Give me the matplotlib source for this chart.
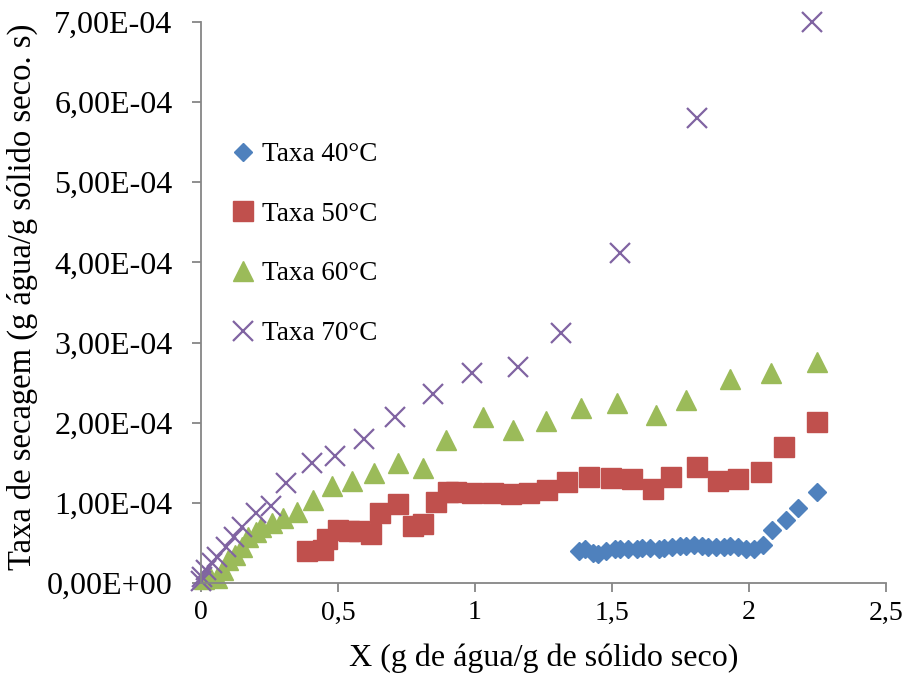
import matplotlib
matplotlib.use("Agg")
import matplotlib.pyplot as plt
from matplotlib.ticker import FuncFormatter, MultipleLocator

plt.rcParams['font.family'] = ['Liberation Serif', 'DejaVu Serif']

# umidade (g agua / g solido seco) e taxa de secagem (x1e-4 g agua / g solido seco . s)
x_40 = [1.38, 1.40, 1.43, 1.45, 1.48, 1.51, 1.53, 1.56, 1.59, 1.61, 1.64, 1.67, 1.69,
        1.72, 1.75, 1.77, 1.80, 1.83, 1.85, 1.88, 1.91, 1.93, 1.96, 1.99, 2.02, 2.05,
        2.085, 2.135, 2.18, 2.248]
y_40 = [0.40, 0.42, 0.38, 0.36, 0.40, 0.42, 0.43, 0.42, 0.43, 0.44, 0.44, 0.43, 0.44,
        0.45, 0.46, 0.46, 0.47, 0.46, 0.45, 0.45, 0.45, 0.46, 0.45, 0.43, 0.42, 0.48,
        0.66, 0.79, 0.94, 1.14]

x_50 = [0.387, 0.445, 0.46, 0.50, 0.54, 0.577, 0.62, 0.653, 0.72, 0.774, 0.81, 0.858,
        0.90, 0.93, 0.99, 1.065, 1.13, 1.197, 1.263, 1.336, 1.416, 1.496, 1.573, 1.65,
        1.715, 1.81, 1.887, 1.96, 2.044, 2.128, 2.248]
y_50 = [0.40, 0.41, 0.55, 0.66, 0.65, 0.65, 0.61, 0.87, 0.99, 0.71, 0.74, 1.01,
        1.14, 1.14, 1.12, 1.12, 1.11, 1.12, 1.16, 1.26, 1.32, 1.31, 1.30, 1.17,
        1.32, 1.45, 1.27, 1.30, 1.39, 1.70, 2.01]

x_60 = [0.01, 0.03, 0.06, 0.08, 0.10, 0.125, 0.15, 0.17, 0.20, 0.22, 0.26, 0.30, 0.35,
        0.41, 0.478, 0.55, 0.63, 0.72, 0.81, 0.894, 1.03, 1.14, 1.26, 1.387, 1.52,
        1.66, 1.77, 1.93, 2.08, 2.248]
y_60 = [0.05, 0.10, 0.06, 0.16, 0.29, 0.35, 0.45, 0.58, 0.64, 0.70, 0.75, 0.81, 0.89,
        1.04, 1.21, 1.27, 1.37, 1.50, 1.43, 1.79, 2.07, 1.91, 2.02, 2.18, 2.25,
        2.10, 2.28, 2.55, 2.62, 2.76]

x_70 = [0.0, 0.005, 0.02, 0.04, 0.06, 0.09, 0.12, 0.15, 0.20, 0.255, 0.31, 0.405,
        0.49, 0.595, 0.71, 0.847, 0.99, 1.157, 1.314, 1.53, 1.81, 2.23]
y_70 = [0.03, 0.08, 0.16, 0.25, 0.33, 0.45, 0.58, 0.70, 0.87, 0.96, 1.25, 1.50,
        1.59, 1.80, 2.07, 2.36, 2.62, 2.69, 3.12, 4.12, 5.80, 7.00]

labels = ['Taxa 40°C', 'Taxa 50°C', 'Taxa 60°C', 'Taxa 70°C']

SCALE = 1e-4

fig = plt.figure(figsize=(9.04, 6.78), dpi=100)
ax = fig.add_axes([0.2223, 0.140, 0.7577, 0.8276])

ax.plot(x_40, [v * SCALE for v in y_40], ls='none', marker='D', ms=9,
        color='#4F81BD', mec='#4F81BD', label=labels[0], clip_on=False)
ax.plot(x_50, [v * SCALE for v in y_50], ls='none', marker='s', ms=14,
        color='#C0504D', mec='#C0504D', label=labels[1], clip_on=False)
ax.plot(x_60, [v * SCALE for v in y_60], ls='none', marker='^', ms=14,
        color='#9BBB59', mec='#9BBB59', label=labels[2], clip_on=False)
ax.plot(x_70, [v * SCALE for v in y_70], ls='none', marker='x', ms=14, mew=1.6,
        color='#8064A2', label=labels[3], clip_on=False)

ax.set_xlim(0, 2.5)
ax.set_ylim(0, 7e-4)
ax.xaxis.set_major_locator(MultipleLocator(0.5))
ax.yaxis.set_major_locator(MultipleLocator(1e-4))
ax.xaxis.set_major_formatter(FuncFormatter(lambda v, p: f"{v:g}".replace('.', ',')))
ax.yaxis.set_major_formatter(FuncFormatter(lambda v, p: f"{v:.2E}".replace('.', ',')))

for s in ('top', 'right'):
    ax.spines[s].set_visible(False)
for s in ('left', 'bottom'):
    ax.spines[s].set_color('#868686')
    ax.spines[s].set_linewidth(1.3)
ax.tick_params(direction='out', length=6.5, width=1.3, color='#868686',
               labelcolor='black')
ax.tick_params(axis='y', pad=14, labelsize=23)
ax.tick_params(axis='x', pad=6, labelsize=20)

ax.set_xlabel('X (g de água/g de sólido seco)', fontsize=23)
ax.set_ylabel('Taxa de secagem (g água/g sólido seco. s)', fontsize=23.5)
ax.xaxis.set_label_coords(0.50, -0.107)
ax.yaxis.set_label_coords(-0.238, 0.51)

leg = ax.legend(loc='upper left', bbox_to_anchor=(0.026, 0.81), frameon=False,
                fontsize=19.5, handlelength=0.8, handletextpad=0.3,
                labelspacing=1.28, borderpad=0)

fig.savefig('out.png', dpi=100)
